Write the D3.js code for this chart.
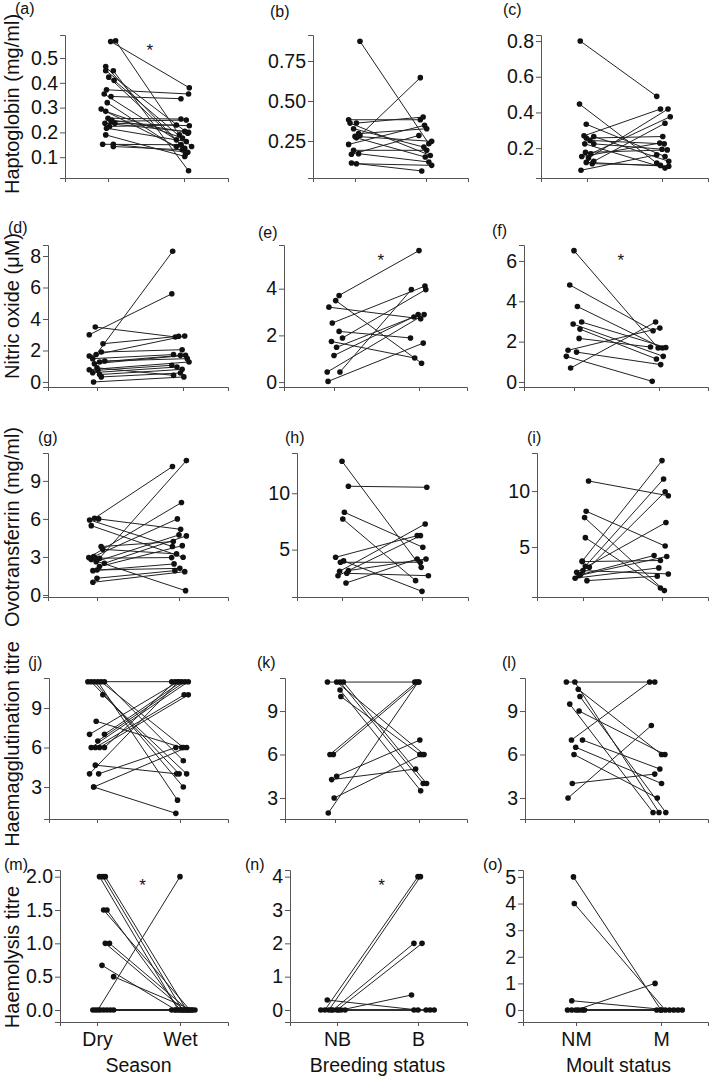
<!DOCTYPE html>
<html><head><meta charset="utf-8">
<script src="https://cdn.jsdelivr.net/npm/d3@7"></script>
<style>
body{margin:0;background:#fff}
text{font-family:"Liberation Sans",Arial,sans-serif}
</style>
</head><body><div id="vis"></div>
<script>
// each pair: [x before, value before, x after, value after] (x: 1 = first group, 2 = second group)
let hapSeason = [[1.035,0.567,2.07,0.38],[1.10,0.57,1.94,0.19],[0.97,0.466,1.96,0.15],[0.97,0.449,2.05,0.197],
  [1.07,0.449,2.06,0.045],[1.01,0.423,2.01,0.136],[1.08,0.41,2.10,0.143],[0.98,0.372,2.06,0.355],[0.95,0.355,1.90,0.17],
  [1.04,0.345,1.96,0.336],[0.99,0.32,2.02,0.113],[0.91,0.294,1.90,0.143],[0.97,0.285,1.98,0.177],[1.0,0.257,1.96,0.254],
  [1.04,0.244,2.03,0.25],[0.96,0.237,2.01,0.204],[1.09,0.237,2.07,0.227],[1.02,0.224,1.90,0.23],[0.98,0.217,2.03,0.163],
  [0.97,0.19,2.01,0.103],[0.93,0.152,1.96,0.15],[1.07,0.152,2.05,0.12],[1.07,0.143,1.98,0.13],[1.05,0.25,2.06,0.2]]
let hapBreeding = [[1.07,0.873,2.04,0.233],[1.07,0.285,1.92,0.646],[0.91,0.383,1.92,0.383],[0.93,0.362,2.06,0.16],
  [1.02,0.362,1.96,0.4],[0.98,0.327,1.97,0.212],[1.05,0.296,2.01,0.327],[1.0,0.279,2.08,0.248],[1.02,0.27,1.99,0.15],
  [0.91,0.229,1.98,0.348],[0.98,0.192,2.01,0.192],[0.95,0.167,1.90,0.285],[1.05,0.171,2.04,0.119],[0.95,0.113,1.94,0.063],
  [1.02,0.108,2.08,0.098]]
let hapMoult = [[0.91,0.8,1.93,0.49],[0.90,0.447,1.93,0.116],[0.99,0.334,2.04,0.153],[0.96,0.269,1.98,0.419],
  [0.99,0.256,2.01,0.265],[1.09,0.265,2.09,0.126],[1.04,0.243,2.03,0.224],[0.97,0.224,2.04,0.088],[1.09,0.224,2.0,0.194],
  [0.98,0.176,2.07,0.19],[1.05,0.168,2.11,0.376],[0.93,0.153,1.97,0.228],[1.02,0.144,2.08,0.419],[1.09,0.126,2.04,0.339],
  [1.07,0.113,1.98,0.103],[0.92,0.076,1.93,0.163],[0.99,0.12,2.09,0.098]]
let noSeason = [[0.99,1.74,1.88,8.3],[0.91,3.0,1.87,5.6],[0.98,3.49,1.91,2.86],[1.07,2.43,1.95,2.9],[0.91,1.65,2.02,2.92],
  [1.05,1.9,1.99,2.05],[0.95,1.48,1.89,1.74],[1.03,1.27,1.97,1.69],[0.97,1.16,2.03,1.69],[1.09,1.33,2.05,1.48],
  [0.91,0.78,2.07,1.27],[1.01,0.74,1.87,1.06],[0.95,0.59,1.93,0.95],[1.03,0.47,1.99,0.8],[1.05,0.32,1.97,0.57],
  [0.96,0.0,2.01,0.32],[1.0,0.9,1.89,0.42]]
let noBreeding = [[1.06,3.71,2.0,5.63],[1.02,3.49,2.03,0.81],[0.94,3.21,2.02,2.71],[0.98,2.53,2.07,4.11],[1.06,2.17,1.9,1.89],
  [1.10,1.89,2.08,3.96],[0.97,1.74,1.95,1.03],[1.03,1.49,1.94,2.79],[1.0,1.14,1.99,2.89],[0.92,0.43,2.06,2.89],
  [1.07,0.43,1.91,3.96],[0.93,0.03,2.05,1.67]]
let noMoult = [[1.0,6.51,1.99,1.68],[0.95,4.81,1.93,2.54],[1.04,3.74,2.04,1.68],[0.99,2.87,2.05,1.27],[1.09,2.97,2.08,1.71],
  [1.07,2.62,1.97,1.14],[1.06,2.16,1.9,1.73],[0.93,1.57,2.01,2.67],[1.03,1.48,2.02,0.86],[0.91,1.27,1.92,0.03],
  [0.96,0.69,1.96,2.97]]
let ovoSeason = [[0.97,6.05,1.92,10.13],[1.03,2.89,2.09,10.6],[0.91,5.92,1.92,3.82],[1.02,6.0,2.02,5.18],[0.93,5.47,2.05,2.97],
  [1.05,3.82,1.93,4.21],[1.07,3.6,1.97,3.24],[0.90,2.95,2.03,7.29],[0.96,3.03,1.98,6.0],[0.99,2.63,2.0,4.74],
  [1.09,2.5,2.09,4.66],[1.03,2.24,2.04,3.89],[0.95,1.92,1.94,2.45],[1.0,1.97,2.01,2.1],[1.0,1.32,1.95,1.92],
  [0.95,1.0,2.07,1.84],[0.93,2.8,2.08,0.34],[0.98,2.9,1.91,2.95]]
let ovoBreeding = [[1.0,12.84,1.99,3.43],[1.08,10.62,2.06,10.53],[1.03,8.31,2.01,5.21],[1.01,7.72,1.92,2.25],
  [0.92,4.32,1.94,6.24],[0.98,3.88,1.98,3.88],[0.97,3.08,2.04,7.28],[1.08,3.14,2.05,4.17],[0.95,2.69,1.98,6.24],
  [1.06,2.9,2.08,2.69],[1.05,2.04,1.94,4.17],[1.02,4.0,2.0,1.3]]
let ovoMoult = [[1.07,10.9,2.08,9.58],[1.04,8.2,2.04,5.09],[1.02,7.63,2.03,1.11],[1.03,5.84,1.98,1.35],[0.99,3.74,2.0,12.72],
  [1.03,3.29,2.02,11.08],[1.08,3.2,2.04,9.94],[0.92,2.75,2.05,7.19],[0.97,2.54,1.9,4.25],[0.9,2.22,1.96,3.14],
  [1.05,2.0,1.94,2.4],[0.95,2.46,2.06,4.16],[0.99,3.7,1.98,3.8],[1.0,2.9,2.08,2.6]]
let haSeason = [[0.89,11,1.90,11],[0.93,11,1.99,4],[0.97,11,2.04,3],[1.01,11,1.97,2],[1.05,11,2.04,6],[1.09,11,2.04,5],
  [1.07,10,2.08,4],[0.99,8,2.02,6],[0.91,7,1.98,11],[1.09,7,2.02,11],[1.01,6.5,2.06,11],[0.93,6,2.10,11],[0.98,6,2.05,10],
  [1.03,6,2.10,10],[1.09,6,1.94,11],[0.98,4.66,1.96,4],[0.91,4,1.98,11],[1.02,4,1.95,6],[0.96,3,1.95,1],[0.96,3,2.08,6]]
let haBreeding = [[0.91,11,1.95,11],[1.02,11,2.06,6],[1.06,11,2.05,4],[1.10,11,2.09,4],[1.06,10.45,2.02,3.5],
  [1.07,10,2.01,6],[0.94,6,1.97,11],[0.98,6,2.0,11],[0.96,4.27,1.96,5],[1.02,4.5,2.01,7],[0.99,3,2.04,6],[0.92,1.96,1.99,11]]
let haMoult = [[0.91,11,1.95,11],[1.01,11,2.0,2],[1.05,10.5,2.03,6],[1.07,10,2.08,2],[0.95,9.48,1.93,2],[1.06,9,2.07,6],
  [0.97,7,1.89,11],[1.1,7,2.01,5],[1.02,6.5,2.03,4],[1.0,6,1.98,3],[0.98,4,1.95,4.65],[0.93,3,1.91,8]]
let hlSeason = [[1.03,2,1.98,0],[1.07,2,2.03,0],[1.1,2,2.08,0],[1.08,1.5,2.12,0],[1.12,1.5,2.0,0],[1.1,1.0,2.05,0],
  [1.15,1.0,2.1,0],[1.06,0.67,1.95,0],[1.2,0.5,2.15,0],[0.95,0,1.9,0],[0.98,0,1.94,0],[1.01,0,2.0,2.0],[1.04,0,2.02,0],
  [1.08,0,2.06,0],[1.12,0,2.1,0],[1.16,0,2.14,0],[1.2,0,2.18,0]]
let hlBreeding = [[0.88,0.3,2.0,0],[0.8,0,1.95,0],[0.85,0,2.0,4],[0.9,0,2.03,4],[0.95,0,1.95,2],[1.0,0,2.05,2],
  [1.05,0,1.92,0.45],[1.1,0,2.1,0],[0.93,0,2.15,0],[1.02,0,2.2,0]]
let hlMoult = [[0.97,5,2.0,0],[0.98,4,2.05,0],[0.95,0.35,2.1,0],[1.0,0,1.93,1],[0.9,0,1.95,0],[0.95,0,2.0,0],
  [1.03,0,2.15,0],[1.07,0,2.2,0],[1.1,0,2.25,0]]

// axes
let groups = [['Dry','Wet'],['NB','B'],['NM','M']]
let xTitles = ['Season','Breeding status','Moult status']
let yTitles = ['Haptoglobin (mg/ml)','Nitric oxide (\u03bcM)','Ovotransferrin (mg/ml)','Haemagglutination titre','Haemolysis titre']
let panelLabels = ['(a)','(b)','(c)','(d)','(e)','(f)','(g)','(h)','(i)','(j)','(k)','(l)','(m)','(n)','(o)']
let yTicks = [[0.1,0.2,0.3,0.4,0.5],[0.25,0.5,0.75],[0.2,0.4,0.6,0.8],
  [0,2,4,6,8],[0,2,4],[0,2,4,6],
  [0,3,6,9],[5,10],[5,10],
  [3,6,9],[3,6,9],[3,6,9],
  [0,0.5,1,1.5,2],[0,1,2,3,4],[0,1,2,3,4,5]]
let yFormats = ['.1f','.2f','.1f','d','d','d','d','d','d','d','d','d','.1f','d','d']
let yDomains = [[0.016,0.593],[0.019,0.9125],[0.0325,0.834],
  [-0.32,8.7],[-0.21,5.87],[-0.25,6.79],
  [-0.16,11.2],[0.8,13.57],[0.54,13.4],
  [0.57,11.28],[1.55,11.28],[1.55,11.28],
  [-0.18,2.1],[-0.36,4.2],[-0.45,5.26]]
let starred = ['a','e','f','m','n']
let series = [hapSeason,hapBreeding,hapMoult,noSeason,noBreeding,noMoult,ovoSeason,ovoBreeding,ovoMoult,
  haSeason,haBreeding,haMoult,hlSeason,hlBreeding,hlMoult]

const W = 709, H = 1077
// layout: rows [top, bottom], panels [left, right, tick1, tick2]
const rows = [[35,178],[245,387],[453,597],[678,819],[870,1022]]
const frames = [[65,228,108,184],[313,468,355,426],[541,708,587,662],
  [48,228,97,183],[284,467,334,419],[524,708,574,659],
  [48,228,97,179],[297,468,342,422],[537,708,583,662],
  [49,228,97,180],[285,467,335,419],[525,708,574,659],
  [60,228,97,180],[290,467,337,418],[523,708,576,661]]
const labelPos = [[15,14],[270,17],[503,15],[8,233],[258,238],[492,236],[38,443],[285,443],[527,443],
  [28,668],[257,668],[502,668],[4,870],[245,870],[483,870]]
const titleY = [104,306,527,744,957]

let svg = d3.select('#vis').append('svg')
  .attr('width', W).attr('height', H)
  .attr('viewBox', [0, 0, W, H].join(' '))
  .style('background-color', 'white')

series.forEach((data, i) => {
  let row = Math.floor(i / 3), col = i % 3
  let [l, r, t1, t2] = frames[i]
  let [top, bot] = rows[row]
  let per = t2 - t1
  let x = d3.scaleLinear().domain([1 - (t1 - l) / per, 2 + (r - t2) / per]).range([l, r])
  let y = d3.scaleLinear().domain(yDomains[i]).range([bot, top])
  let g = svg.append('g')

  let xa = g.append('g').attr('transform', `translate(0,${bot})`)
    .call(d3.axisBottom(x).tickValues([1, 2]).tickSizeOuter(0).tickSize(4)
      .tickFormat(d => row == 4 ? groups[col][d - 1] : ''))
  let ya = g.append('g').attr('transform', `translate(${l},0)`)
    .call(d3.axisLeft(y).tickValues(yTicks[i]).tickSizeOuter(0).tickSize(5).tickPadding(2)
      .tickFormat(d3.format(yFormats[i])))
  ;[xa, ya].forEach(a => {
    a.selectAll('path,line').attr('stroke', '#555')
    a.selectAll('text').attr('fill', '#111').style('font-size', '19.5px')
      .style('font-family', '"Liberation Sans",Arial,sans-serif')
  })
  xa.selectAll('text').attr('dy', '0.85em')

  g.selectAll('line.pair').data(data).join('line').attr('class', 'pair')
    .attr('x1', d => x(d[0])).attr('y1', d => y(d[1]))
    .attr('x2', d => x(d[2])).attr('y2', d => y(d[3]))
    .attr('stroke', '#222').attr('stroke-width', 1)
  let pts = data.flatMap(d => [[d[0], d[1]], [d[2], d[3]]])
  g.selectAll('circle').data(pts).join('circle')
    .attr('cx', d => x(d[0])).attr('cy', d => y(d[1])).attr('r', 2.8)
    .attr('fill', '#111')

  svg.append('text').attr('x', labelPos[i][0]).attr('y', labelPos[i][1])
    .style('font-size', '16px').attr('fill', '#111').text(panelLabels[i])

  if (starred.includes(panelLabels[i][1])) {
    svg.append('text').attr('x', x(1.55)).attr('y', top + 21).attr('text-anchor', 'middle')
      .style('font-size', '17px').attr('fill', '#111').text('*')
  }
  if (row == 4) {
    svg.append('text').attr('x', (t1 + t2) / 2).attr('y', 1072).attr('text-anchor', 'middle')
      .style('font-size', '19.5px').attr('fill', '#111').text(xTitles[col])
  }
})

yTitles.forEach((t, k) => {
  svg.append('text').attr('transform', `translate(19,${titleY[k]}) rotate(-90)`)
    .attr('text-anchor', 'middle').style('font-size', '20px').attr('fill', '#111').text(t)
})
</script></body></html>
